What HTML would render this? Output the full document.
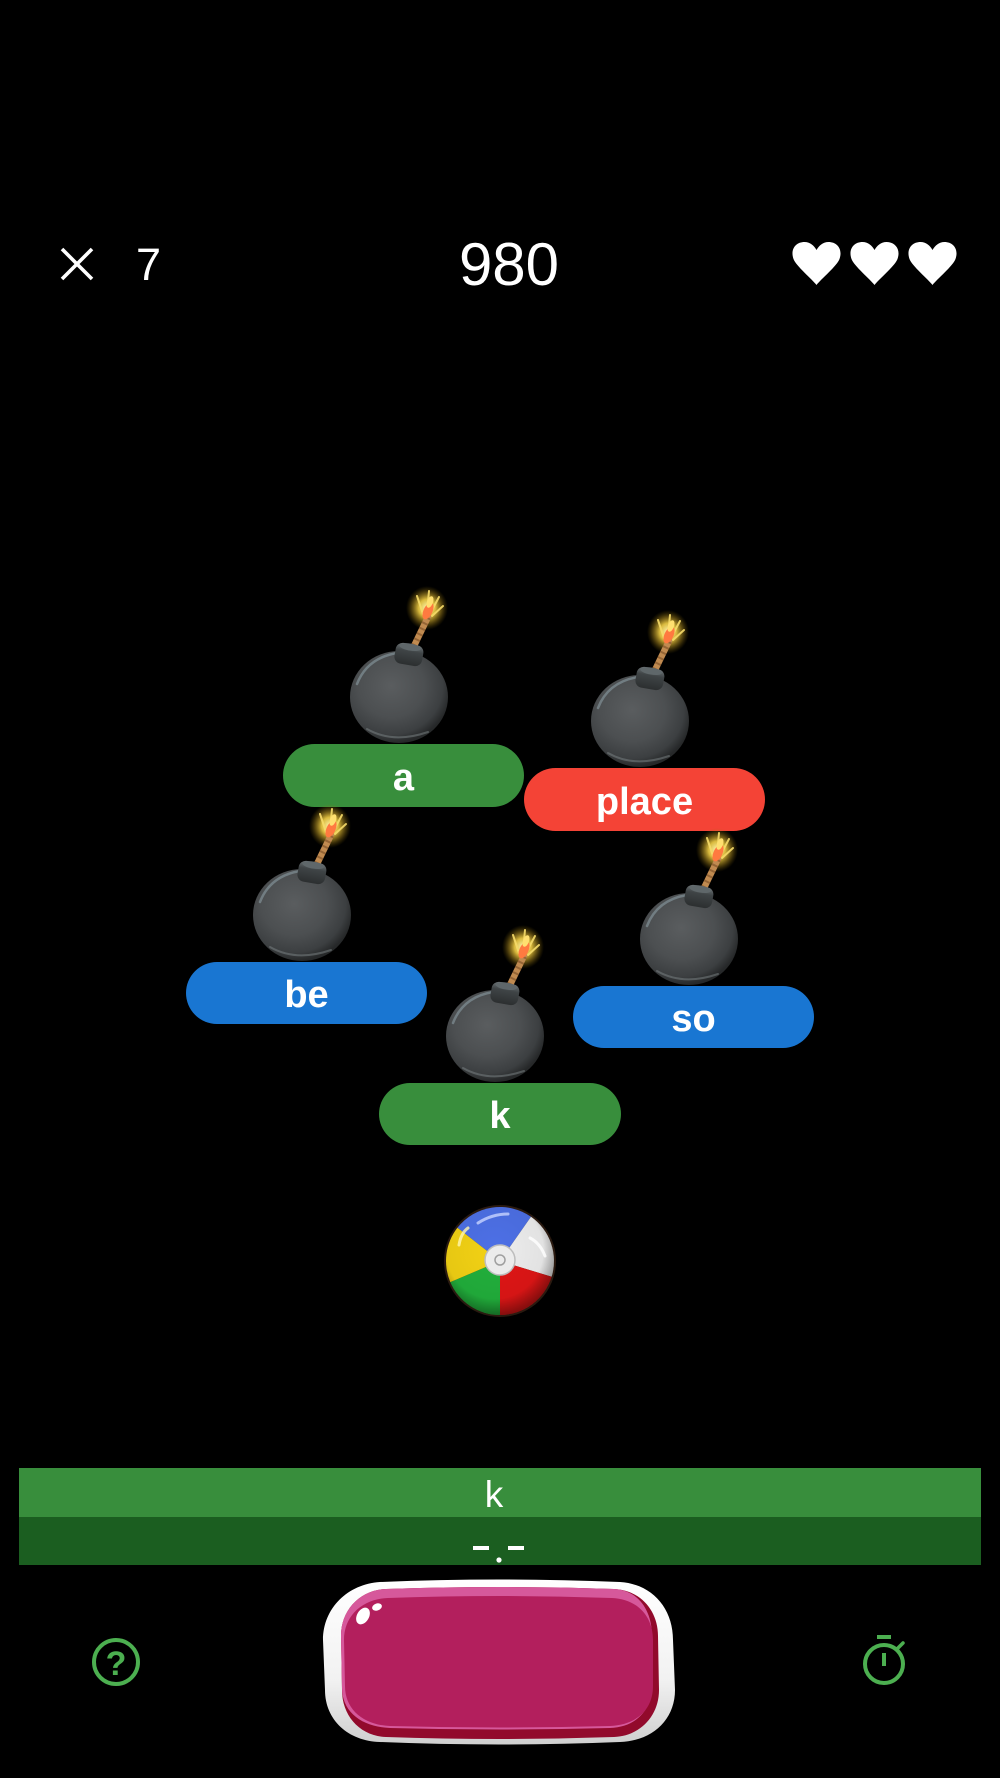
<!DOCTYPE html>
<html>
<head>
<meta charset="utf-8">
<style>
  html,body{margin:0;padding:0;background:#000;}
  body{width:1000px;height:1778px;overflow:hidden;}
  svg{display:block;}
  text{font-family:"Liberation Sans", Arial, sans-serif;}
</style>
</head>
<body>
<svg width="1000" height="1778" viewBox="0 0 1000 1778" xmlns="http://www.w3.org/2000/svg">
  <defs>
    <radialGradient id="bodyG" cx="42%" cy="38%" r="62%">
      <stop offset="0" stop-color="#5a5d5f"/>
      <stop offset="0.55" stop-color="#4c4f51"/>
      <stop offset="0.85" stop-color="#3c3f41"/>
      <stop offset="1" stop-color="#262829"/>
    </radialGradient>
    <radialGradient id="glowG" cx="50%" cy="50%" r="50%">
      <stop offset="0" stop-color="#fff6b0" stop-opacity="1"/>
      <stop offset="0.4" stop-color="#f2cf45" stop-opacity="0.9"/>
      <stop offset="0.75" stop-color="#c9a020" stop-opacity="0.35"/>
      <stop offset="1" stop-color="#8a6a00" stop-opacity="0"/>
    </radialGradient>
    <linearGradient id="capG" x1="0" y1="0" x2="0" y2="1">
      <stop offset="0" stop-color="#6d7477"/>
      <stop offset="0.35" stop-color="#3f4446"/>
      <stop offset="1" stop-color="#2c2f30"/>
    </linearGradient>
    <linearGradient id="btnOuter" x1="0" y1="0" x2="0" y2="1">
      <stop offset="0" stop-color="#ffffff"/>
      <stop offset="0.6" stop-color="#f2f2f2"/>
      <stop offset="1" stop-color="#cfcfcf"/>
    </linearGradient>
    <radialGradient id="ballShade" cx="45%" cy="40%" r="60%">
      <stop offset="0" stop-color="#000" stop-opacity="0"/>
      <stop offset="0.75" stop-color="#000" stop-opacity="0.05"/>
      <stop offset="1" stop-color="#000" stop-opacity="0.4"/>
    </radialGradient>

    <g id="bomb">
      <ellipse cx="144" cy="-136" rx="21" ry="22" fill="url(#glowG)"/>
      <g stroke="#f7dc6a" stroke-width="2" stroke-linecap="round" fill="none" opacity="0.9">
        <path d="M140,-130 L134,-148"/>
        <path d="M144,-132 L146,-153"/>
        <path d="M147,-130 L156,-147"/>
        <path d="M149,-128 L160,-138"/>
      </g>
      <line x1="131" y1="-98" x2="145" y2="-127" stroke="#c08a50" stroke-width="6.5" stroke-linecap="round"/>
      <line x1="131" y1="-98" x2="145" y2="-127" stroke="#7a4e25" stroke-width="6.5" stroke-dasharray="2 4" opacity="0.6"/>
      <ellipse cx="145" cy="-133" rx="4.5" ry="9" transform="rotate(25 145 -133)" fill="#ff7a40"/>
      <ellipse cx="147" cy="-142" rx="3" ry="6" transform="rotate(20 147 -142)" fill="#ffe070"/>
      <ellipse cx="116" cy="-47" rx="49" ry="46" fill="url(#bodyG)"/>
      <path d="M74,-60 Q84,-86 114,-91" stroke="#8fa3aa" stroke-width="2.5" fill="none" opacity="0.55" stroke-linecap="round"/>
      <path d="M84,-15 Q110,0 145,-12" stroke="#7d8588" stroke-width="2" fill="none" opacity="0.5" stroke-linecap="round"/>
      <g transform="translate(126,-90) rotate(10)">
        <rect x="-14" y="-10" width="28" height="21" rx="7" fill="url(#capG)"/>
        <ellipse cx="0" cy="-7" rx="11" ry="3.5" fill="#5f676a"/>
      </g>
    </g>
  </defs>

  <rect width="1000" height="1778" fill="#000"/>

  <!-- Header -->
  <line x1="62" y1="249" x2="92" y2="279" stroke="#fff" stroke-width="3.6"/>
  <line x1="92" y1="249" x2="62" y2="279" stroke="#fff" stroke-width="3.6"/>
  <text x="136" y="280" font-size="45" fill="#fff">7</text>
  <text x="509" y="285" font-size="60" fill="#fff" text-anchor="middle">980</text>

  <g fill="#fff">
    <path transform="translate(792,242)" d="M24.5,43 C20,37 4,24 1.5,17 C-2,7 4,0 12.5,0 C18,0 22,3.5 24.5,8 C27,3.5 31,0 36.5,0 C45,0 51,7 47.5,17 C45,24 29,37 24.5,43 Z"/>
    <path transform="translate(850,242)" d="M24.5,43 C20,37 4,24 1.5,17 C-2,7 4,0 12.5,0 C18,0 22,3.5 24.5,8 C27,3.5 31,0 36.5,0 C45,0 51,7 47.5,17 C45,24 29,37 24.5,43 Z"/>
    <path transform="translate(908,242)" d="M24.5,43 C20,37 4,24 1.5,17 C-2,7 4,0 12.5,0 C18,0 22,3.5 24.5,8 C27,3.5 31,0 36.5,0 C45,0 51,7 47.5,17 C45,24 29,37 24.5,43 Z"/>
  </g>

  <!-- Bomb: a -->
  <use href="#bomb" transform="translate(283,744)"/>
  <rect x="283" y="744" width="241" height="63" rx="31.5" fill="#388e3c"/>
  <text x="403.5" y="790" font-size="38" font-weight="bold" fill="#fff" text-anchor="middle">a</text>

  <!-- Bomb: place -->
  <use href="#bomb" transform="translate(524,768)"/>
  <rect x="524" y="768" width="241" height="63" rx="31.5" fill="#f44336"/>
  <text x="644.5" y="814" font-size="38" font-weight="bold" fill="#fff" text-anchor="middle">place</text>

  <!-- Bomb: be -->
  <use href="#bomb" transform="translate(186,962)"/>
  <rect x="186" y="962" width="241" height="62" rx="31" fill="#1976d2"/>
  <text x="306.5" y="1007" font-size="38" font-weight="bold" fill="#fff" text-anchor="middle">be</text>

  <!-- Bomb: so -->
  <use href="#bomb" transform="translate(573,986)"/>
  <rect x="573" y="986" width="241" height="62" rx="31" fill="#1976d2"/>
  <text x="693.5" y="1031" font-size="38" font-weight="bold" fill="#fff" text-anchor="middle">so</text>

  <!-- Bomb: k -->
  <use href="#bomb" transform="translate(379,1083)"/>
  <rect x="379" y="1083" width="242" height="62" rx="31" fill="#388e3c"/>
  <text x="500" y="1128" font-size="38" font-weight="bold" fill="#fff" text-anchor="middle">k</text>

  <!-- Beach ball -->
  <g>
    <circle cx="500" cy="1261" r="56" fill="#2a1a10"/>
    <path d="M500,1261 L457.4,1227.8 A54,54 0 0 1 531.0,1216.8 Z" fill="#4d70e6"/>
    <path d="M500,1261 L531.0,1216.8 A54,54 0 0 1 551.6,1276.8 Z" fill="#eeeeee"/>
    <path d="M500,1261 L551.6,1276.8 A54,54 0 0 1 500,1315 Z" fill="#e01616"/>
    <path d="M500,1261 L500,1315 A54,54 0 0 1 450.3,1282.1 Z" fill="#22b03c"/>
    <path d="M500,1261 L450.3,1282.1 A54,54 0 0 1 457.4,1227.8 Z" fill="#f3d214"/>
    <circle cx="500" cy="1261" r="54" fill="url(#ballShade)"/>
    <path d="M478,1223 Q492,1214 508,1214" stroke="#c8d4ff" stroke-width="3" fill="none" stroke-linecap="round" opacity="0.8"/>
    <path d="M459,1245 Q461,1233 468,1228" stroke="#fff6b0" stroke-width="3" fill="none" stroke-linecap="round" opacity="0.8"/>
    <path d="M530,1238 Q540,1243 545,1256" stroke="#ffffff" stroke-width="3" fill="none" stroke-linecap="round" opacity="0.8"/>
    <circle cx="500" cy="1260" r="15" fill="#ececec" stroke="#bdbdbd" stroke-width="1.5"/>
    <circle cx="500" cy="1260" r="5" fill="none" stroke="#a0a0a0" stroke-width="1.5"/>
  </g>

  <!-- Bottom bars -->
  <rect x="19" y="1468" width="962" height="49" fill="#388e3c"/>
  <rect x="19" y="1517" width="962" height="48" fill="#1b5e20"/>
  <text x="494" y="1507" font-size="37" fill="#fff" text-anchor="middle">k</text>
  <rect x="473" y="1546" width="16" height="4" fill="#fff"/>
  <circle cx="499" cy="1560" r="2.6" fill="#fff"/>
  <rect x="508" y="1546" width="16" height="4" fill="#fff"/>

  <!-- Big button -->
  <path d="M380,1582 Q499,1577 620,1582 C652,1584 673,1608 673,1640 L675,1690 C675,1720 652,1741 620,1742 Q499,1747 380,1742 C348,1741 325,1720 325,1690 L323,1640 C323,1608 348,1584 380,1582 Z" fill="url(#btnOuter)"/>
  <path d="M386,1589 Q500,1585 614,1589 C640,1590 658,1610 658,1636 L659,1690 C659,1716 640,1736 614,1737 Q500,1741 386,1737 C360,1736 342,1716 342,1690 L341,1636 C341,1610 360,1590 386,1589 Z" fill="#920a2c"/>
  <path d="M386,1589 Q500,1585 614,1589 C638,1590 652,1610 652,1636 L652,1686 C652,1710 636,1727 610,1728 Q500,1731 390,1728 C362,1727 342,1712 342,1688 L341,1636 C341,1610 360,1590 386,1589 Z" fill="#d6589b"/>
  <path d="M388,1598 Q500,1594 612,1598 C637,1599 653,1616 653,1640 L653,1686 C653,1710 636,1725 610,1726 Q500,1729 390,1726 C364,1725 345,1710 345,1686 L344,1640 C344,1616 362,1599 388,1598 Z" fill="#b31f5d"/>
  <ellipse cx="363" cy="1616" rx="6" ry="9" transform="rotate(30 363 1616)" fill="#fff"/>
  <ellipse cx="377" cy="1607" rx="5" ry="3.5" transform="rotate(-20 377 1607)" fill="#fff"/>

  <!-- Help icon -->
  <circle cx="116" cy="1662" r="22" fill="none" stroke="#4caf50" stroke-width="4"/>
  <text x="116" y="1675" font-size="34" font-weight="bold" fill="#4caf50" text-anchor="middle">?</text>

  <!-- Stopwatch icon -->
  <circle cx="884" cy="1664" r="19" fill="none" stroke="#4caf50" stroke-width="4"/>
  <rect x="877" y="1635" width="14" height="4" fill="#4caf50"/>
  <line x1="884" y1="1653" x2="884" y2="1666" stroke="#4caf50" stroke-width="4"/>
  <line x1="898" y1="1648" x2="903" y2="1643" stroke="#4caf50" stroke-width="3.5" stroke-linecap="round"/>
</svg>
</body>
</html>
